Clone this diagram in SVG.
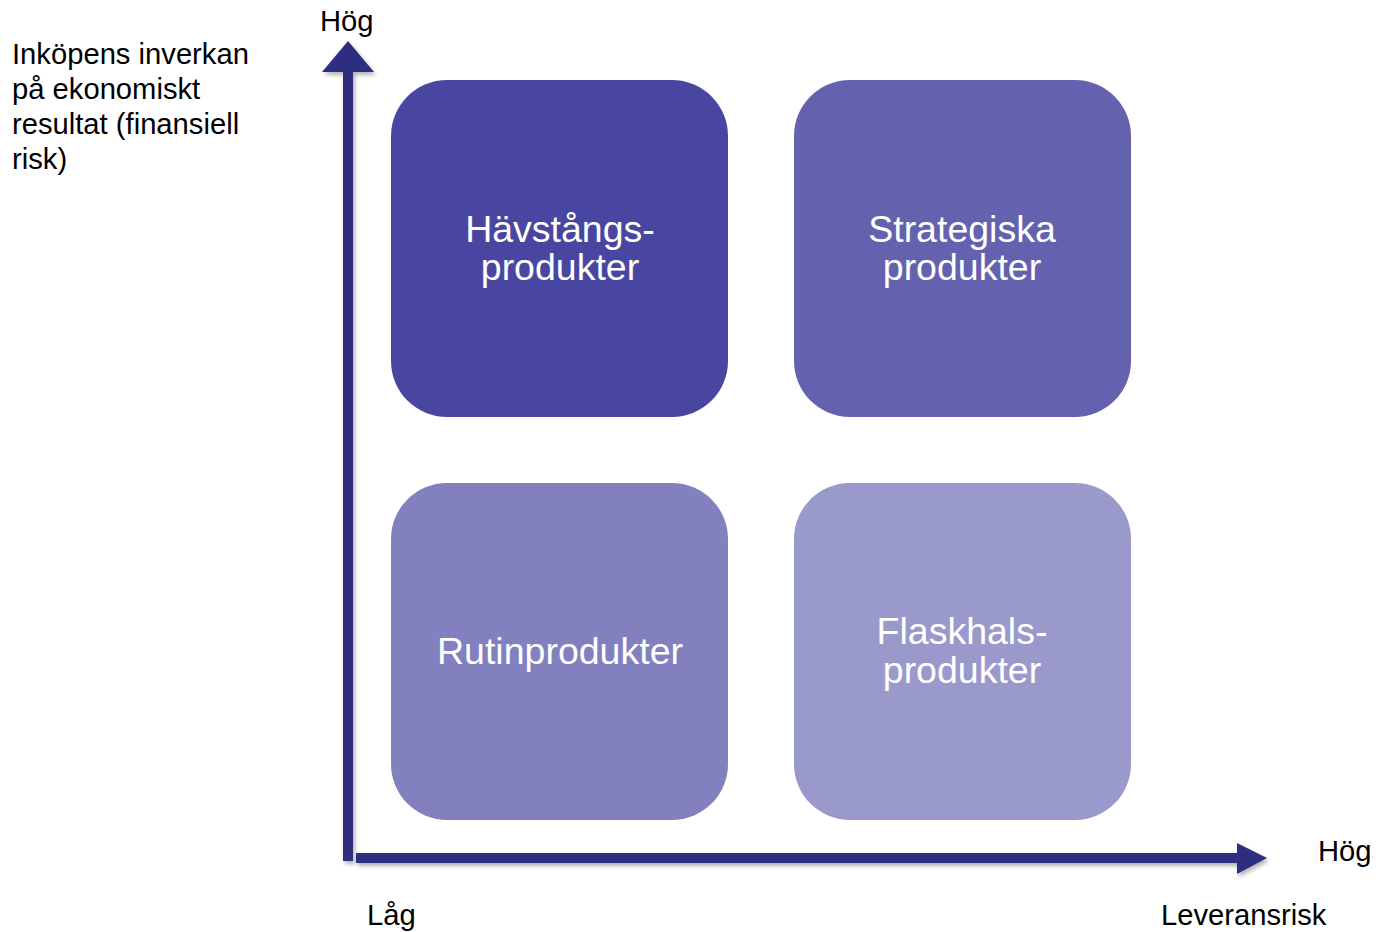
<svg xmlns="http://www.w3.org/2000/svg" width="1376" height="932" viewBox="0 0 1376 932">
<style>
.lbl{font-family:"Liberation Sans",Arial,sans-serif;font-size:29.2px;fill:#000}
.box{stroke:none}
.bt{font-family:"Liberation Sans",Arial,sans-serif;font-size:37.5px;fill:#fff;text-anchor:middle}
.ax{fill:#2E2E80}
</style>
<defs>
<filter id="sh" x="-10%" y="-10%" width="130%" height="130%">
<feDropShadow dx="2" dy="3" stdDeviation="2" flood-color="#000" flood-opacity="0.3"/>
</filter>
</defs>
<rect width="1376" height="932" fill="#fff"/>
<g id="connectors" filter="url(#sh)">
<path class="ax" d="M343,861 L343,72 L322,72 L348,41 L374,72 L353,72 L353,861 Z"/>
<path class="ax" d="M356,853 L1237,853 L1237,843 L1267,858 L1237,874 L1237,863 L356,863 Z"/>
</g>
<g id="leverage">
<rect class="box" x="391" y="80" width="337" height="337" rx="56" fill="#4946A1"/>
<text class="bt" x="560" y="242">Hävstångs-</text>
<text class="bt" x="560" y="280">produkter</text>
</g>
<g id="strategic">
<rect class="box" x="794" y="80" width="337" height="337" rx="56" fill="#6462AF"/>
<text class="bt" x="962" y="242">Strategiska</text>
<text class="bt" x="962" y="280">produkter</text>
</g>
<g id="routine">
<rect class="box" x="391" y="483" width="337" height="337" rx="56" fill="#8280BE"/>
<text class="bt" x="560" y="664">Rutinprodukter</text>
</g>
<g id="bottleneck">
<rect class="box" x="794" y="483" width="337" height="337" rx="56" fill="#9A99CB"/>
<text class="bt" x="962" y="644">Flaskhals-</text>
<text class="bt" x="962" y="683">produkter</text>
</g>
<g id="labels">
<text class="lbl" x="12" y="64">Inköpens inverkan</text>
<text class="lbl" x="12" y="99">på ekonomiskt</text>
<text class="lbl" x="12" y="134">resultat (finansiell</text>
<text class="lbl" x="12" y="169">risk)</text>
<text class="lbl" x="320" y="31">Hög</text>
<text class="lbl" x="367" y="925">Låg</text>
<text class="lbl" x="1318" y="861">Hög</text>
<text class="lbl" x="1161" y="925">Leveransrisk</text>
</g>
</svg>
